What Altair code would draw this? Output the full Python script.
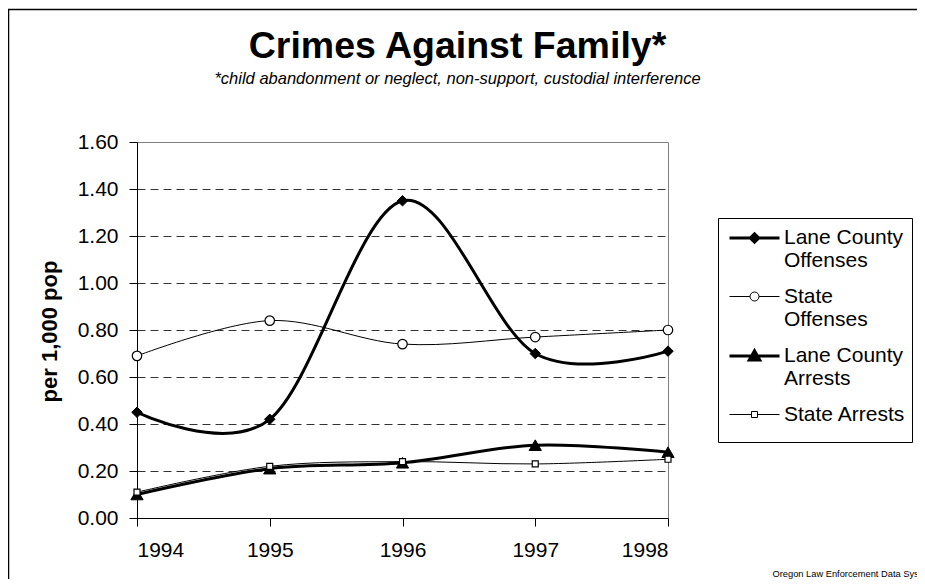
import altair as alt
import pandas as pd

# ---- data ----
years = [1994, 1995, 1996, 1997, 1998]
lane_offenses = [0.45, 0.42, 1.35, 0.70, 0.71]
state_offenses = [0.69, 0.84, 0.74, 0.77, 0.80]
lane_arrests = [0.10, 0.21, 0.235, 0.31, 0.28]
state_arrests = [0.11, 0.22, 0.24, 0.23, 0.25]
series_names = ["Lane County Offenses", "State Offenses", "Lane County Arrests", "State Arrests"]
y_ticks = [0.0, 0.2, 0.4, 0.6, 0.8, 1.0, 1.2, 1.4, 1.6]

rows = []
for name, vals in zip(series_names, [lane_offenses, state_offenses, lane_arrests, state_arrests]):
    for yr, v in zip(years, vals):
        rows.append({"year": yr, "value": v, "series": name})
df = pd.DataFrame(rows)

FONT = "Liberation Sans, Arial, sans-serif"

# ---- styles ----
styles = {
    "Lane County Offenses": dict(lw=3, shape="diamond", fill="black", size=110, sw=1),
    "State Offenses": dict(lw=1, shape="circle", fill="white", size=90, sw=1.2),
    "Lane County Arrests": dict(lw=3, shape="triangle-up", fill="black", size=150, sw=1),
    "State Arrests": dict(lw=1, shape="square", fill="white", size=36, sw=1.2),
}
legend_paths = [
    "M-2,0L2,0M0,-0.34L0.34,0L0,0.34L-0.34,0Z",
    "M-2,0L-0.36,0M0.36,0L2,0M0.36,0A0.36,0.36,0,1,1,-0.36,0A0.36,0.36,0,1,1,0.36,0Z",
    "M-2,0L2,0M0,-0.42L0.42,0.32L-0.42,0.32Z",
    "M-2,0L-0.24,0M0.24,0L2,0M-0.24,-0.24L0.24,-0.24L0.24,0.24L-0.24,0.24Z",
]
legend_fills = ["black", "white", "black", "white"]
legend_strokes = ["black", "black", "black", "black"]
legend_widths = [3, 1, 3, 1]

x_enc = alt.X(
    "year:Q",
    scale=alt.Scale(domain=[1994, 1998], nice=False, zero=False),
    axis=alt.Axis(
        values=years, format="d", grid=False, tickSize=8, labelPadding=13,
        labelFontSize=21, labelFont=FONT, labelColor="black",
        domainColor="black", tickColor="black",
        title="Oregon Law Enforcement Data System", titleFont=FONT,
        titleFontSize=9.3, titleFontWeight="normal", titleColor="black",
        titleX=635, titleY=55, titleAlign="left", titleBaseline="middle",
    ),
)
y_enc = alt.Y(
    "value:Q",
    scale=alt.Scale(domain=[0, 1.6], nice=False),
    axis=alt.Axis(
        values=y_ticks, format=".2f", tickSize=8, labelPadding=11,
        labelFontSize=21, labelFont=FONT, labelColor="black",
        domainColor="black", tickColor="black",
        grid=True, gridDash=[8, 5], gridColor="#333333", gridWidth=1,
        gridOpacity={"condition": {"test": "datum.value >= 1.59 || datum.value <= 0.01", "value": 0}, "value": 1},
        title="per 1,000 pop", titleFont=FONT, titleFontSize=22,
        titleFontWeight="bold", titleColor="black",
        titleX=-88, titleY=189, titleBaseline="middle", titleAngle=270,
    ),
)

base = alt.Chart(df)

frame = alt.Chart(pd.DataFrame({"a": [0]})).mark_rect(
    fill="transparent", stroke="black", strokeWidth=1.5
).encode(
    x=alt.value(-128.5), x2=alt.value(1200), y=alt.value(-132.5), y2=alt.value(1200)
)

layers = [frame]
for name in series_names:
    st = styles[name]
    sub = base.transform_filter(alt.datum.series == name)
    layers.append(
        sub.mark_line(interpolate="cardinal", color="black", strokeWidth=st["lw"]).encode(x=x_enc, y=y_enc)
    )
    layers.append(
        sub.mark_point(
            shape=st["shape"], filled=True, fill=st["fill"], stroke="black",
            strokeWidth=st["sw"], size=st["size"], opacity=1,
        ).encode(x=x_enc, y=y_enc)
    )

label_expr = (
    "datum.label == 'State Arrests' ? datum.label : "
    "[substring(datum.label, 0, lastindexof(datum.label, ' ')), "
    "substring(datum.label, lastindexof(datum.label, ' ') + 1)]"
)
leg = alt.Legend(
    title=" ", titleOrient="bottom", titleFontSize=12, titlePadding=0,
    orient="none", legendX=581, legendY=76,
    symbolSize=625, symbolOffset=16.5, labelOffset=15.5,
    labelFontSize=21, labelFont=FONT, labelColor="black", labelLimit=129,
    labelExpr=label_expr, padding=6, rowPadding=12.5,
    strokeColor="black", fillColor="white", symbolStrokeColor="black",
)
legend_layer = base.mark_point(filled=False, opacity=1).encode(
    x=x_enc, y=y_enc,
    shape=alt.Shape("series:N", scale=alt.Scale(domain=series_names, range=legend_paths), legend=leg),
    fill=alt.Fill("series:N", scale=alt.Scale(domain=series_names, range=legend_fills), legend=leg),
    stroke=alt.Stroke("series:N", scale=alt.Scale(domain=series_names, range=legend_strokes), legend=leg),
    strokeWidth=alt.StrokeWidth("series:N", scale=alt.Scale(type="ordinal", domain=series_names, range=legend_widths), legend=leg),
).transform_filter("false")
layers.append(legend_layer)

chart = alt.layer(*layers).properties(
    width=531, height=376,
    autosize=alt.AutoSizeParams(type="none"),
    padding={"left": 129, "top": 134, "right": 249, "bottom": 61},
    title=alt.TitleParams(
        text="Crimes Against Family*",
        subtitle="*child abandonment or neglect, non-support, custodial interference",
        font=FONT, fontSize=37.5, fontWeight="bold", color="black",
        subtitleFont=FONT, subtitleFontSize=16.5, subtitleFontStyle="italic",
        subtitleColor="black", subtitlePadding=6,
        anchor="middle", frame="group", dx=55, offset=-79,
    ),
    background="white",
).configure_view(stroke="#808080", strokeWidth=1)

chart.save("out.html", embed_options={"renderer": "svg", "actions": False})
